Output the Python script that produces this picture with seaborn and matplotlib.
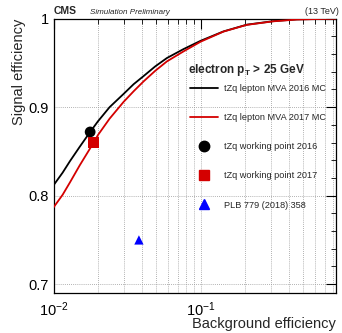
import matplotlib
matplotlib.use("Agg")
import matplotlib.pyplot as plt
import seaborn as sns
import pandas as pd
from matplotlib.lines import Line2D
from matplotlib.ticker import LogLocator, MultipleLocator, NullFormatter

sns.set_theme(style="white")
plt.rcParams['font.family'] = ['Liberation Sans', 'DejaVu Sans']
plt.rcParams['mathtext.fontset'] = 'custom'
plt.rcParams['mathtext.rm'] = 'Liberation Sans'
plt.rcParams['mathtext.bf'] = 'Liberation Sans:bold'

# Data
bkg_2016 = [0.010, 0.0115, 0.0129, 0.0150, 0.0177, 0.0200, 0.0240, 0.0299, 0.0350, 0.0408, 0.0490,
            0.0589, 0.0764, 0.100, 0.143, 0.206, 0.313, 0.450, 0.835]
sig_2016 = [0.812, 0.826, 0.839, 0.855, 0.872, 0.884, 0.900, 0.915, 0.926, 0.935, 0.946,
            0.9555, 0.9656, 0.975, 0.9856, 0.9932, 0.9972, 0.9992, 1.000]
bkg_2017 = [0.010, 0.0115, 0.0129, 0.0150, 0.0187, 0.0200, 0.0240, 0.0299, 0.0350, 0.0408, 0.0490,
            0.0589, 0.0764, 0.100, 0.143, 0.206, 0.313, 0.450, 0.835]
sig_2017 = [0.787, 0.801, 0.815, 0.834, 0.860, 0.8685, 0.887, 0.906, 0.918, 0.929, 0.941,
            0.9517, 0.963, 0.974, 0.9854, 0.993, 0.997, 0.999, 1.000]
wp_labels = ["tZq working point 2016", "tZq working point 2017", "PLB 779 (2018) 358"]
wp_bkg = [0.0177, 0.0187, 0.038]
wp_sig = [0.872, 0.860, 0.750]

fig = plt.figure(figsize=(3.42, 3.33), dpi=100)
ax = fig.add_axes([0.157, 0.12, 0.826, 0.824])

df16 = pd.DataFrame({"x": bkg_2016, "y": sig_2016})
df17 = pd.DataFrame({"x": bkg_2017, "y": sig_2017})
sns.lineplot(data=df16, x="x", y="y", ax=ax, color="black", linewidth=1.3, sort=False, zorder=3)
sns.lineplot(data=df17, x="x", y="y", ax=ax, color="#d40000", linewidth=1.3, sort=False, zorder=3)

colors = ["black", "#d40000", "#0000ff"]
markers = ["o", "s", "^"]
sizes = [60, 65, 45]
for i in range(3):
    sns.scatterplot(x=[wp_bkg[i]], y=[wp_sig[i]], ax=ax, color=colors[i], marker=markers[i],
                    s=sizes[i], edgecolor="none", zorder=4)

ax.set_xscale("log")
ax.set_xlim(0.01, 0.835)
ax.set_ylim(0.69, 1.0)
ax.xaxis.set_major_locator(LogLocator(base=10, numticks=5))
ax.xaxis.set_minor_locator(LogLocator(base=10, subs=range(2, 10), numticks=20))
ax.xaxis.set_minor_formatter(NullFormatter())
ax.yaxis.set_minor_locator(MultipleLocator(0.02))
ax.set_yticks([0.7, 0.8, 0.9, 1.0])
ax.set_yticklabels(["0.7", "0.8", "0.9", "1"])

ax.grid(True, which="both", axis="x", color="#999999", linestyle=(0, (1, 1.5)), linewidth=0.6)
ax.grid(True, which="major", axis="y", color="#999999", linestyle=(0, (1, 1.5)), linewidth=0.6)
ax.tick_params(which="both", direction="in", top=True, right=True, labelsize=10.5, colors="black")
ax.tick_params(which="major", length=7, width=0.8)
ax.tick_params(which="minor", length=3.5, width=0.6)
ax.tick_params(axis="x", pad=5)
for s in ax.spines.values():
    s.set_color("black")
    s.set_linewidth(0.9)

ax.set_xlabel("Background efficiency", fontsize=10.5, loc="right", labelpad=-1)
ax.set_ylabel("Signal efficiency", fontsize=10.5, loc="top", labelpad=2)

fig.text(0.158, 0.952, "CMS", fontsize=7.5, fontweight="bold", ha="left", va="bottom")
fig.text(0.262, 0.952, "Simulation Preliminary", fontsize=5.8, style="italic", ha="left", va="bottom")
fig.text(0.99, 0.952, "(13 TeV)", fontsize=6.5, ha="right", va="bottom")

fig.text(188 / 342, 1 - 70 / 333, r"electron $\mathbf{p_T}$ > 25 GeV", fontsize=8.5, fontweight="bold",
         ha="left", va="center")

handles = [
    Line2D([], [], color="black", linewidth=1.3),
    Line2D([], [], color="#d40000", linewidth=1.3),
    Line2D([], [], color="black", marker="o", linestyle="none", markersize=7.5),
    Line2D([], [], color="#d40000", marker="s", linestyle="none", markersize=7.5),
    Line2D([], [], color="#0000ff", marker="^", linestyle="none", markersize=6.5),
]
labels = ["tZq lepton MVA 2016 MC", "tZq lepton MVA 2017 MC"] + wp_labels
leg = ax.legend(handles, labels, loc="upper left", bbox_to_anchor=(190 / 342, 1 - 84 / 333),
                bbox_transform=fig.transFigure, frameon=False, borderpad=0, borderaxespad=0,
                fontsize=6.6, labelspacing=2.2, handlelength=3.05, handletextpad=0.65)

fig.savefig("out.png", dpi=100)
